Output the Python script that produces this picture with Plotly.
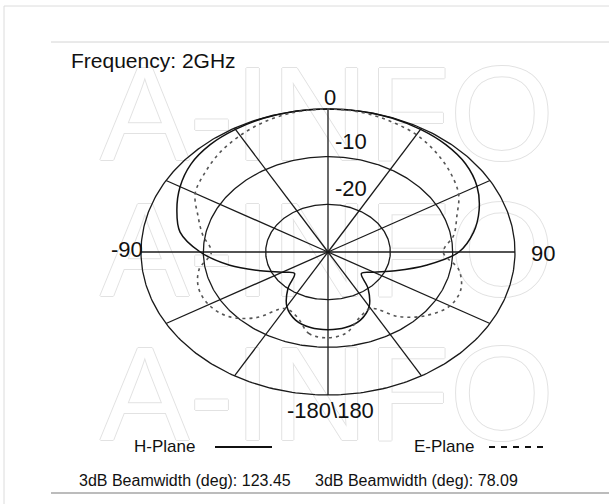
import numpy as np
import plotly.graph_objects as go

# ---------------- data ----------------
angles_deg = [-180, -170, -160, -150, -140, -130, -120, -110, -100, -90,
              -80, -70, -60, -50, -40, -30, -20, -10, 0,
              10, 20, 30, 40, 50, 60, 70, 80, 90,
              100, 110, 120, 130, 140, 150, 160, 170, 180]

h_plane_db = [-13.7, -13.9, -14.8, -16.8, -20.0, -23.0, -21.5, -18.5, -14.0, -9.5,
              -5.9, -4.2, -2.6, -1.3, -0.6, -0.3, -0.1, 0.0, 0.0,
              0.0, -0.1, -0.3, -0.6, -1.2, -2.4, -4.2, -6.3, -9.0,
              -14.0, -18.5, -21.5, -23.0, -20.0, -16.8, -14.8, -13.9, -13.7]

e_plane_db = [-12.0, -12.6, -15.5, -16.3, -12.0, -9.0, -7.9, -7.9, -9.0, -11.3,
              -9.6, -7.8, -5.4, -4.2, -2.9, -1.8, -0.8, -0.2, 0.0,
              -0.2, -0.8, -1.6, -2.9, -4.3, -5.8, -8.0, -9.5, -11.5,
              -8.7, -7.3, -7.4, -9.3, -12.3, -16.3, -15.3, -12.8, -12.0]

ring_values = [0, -10, -20]
ring_labels = ["0", "-10", "-20"]
spoke_angles = [0, 30, 60, 90, 120, 150, 180, 210, 240, 270, 300, 330]
angle_label_pos = [-90, 90, 180]
angle_labels = ["-90", "90", "-180\\180"]
r_min, r_max = -30, 0

title_text = "Frequency: 2GHz"
series_names = ["H-Plane", "E-Plane"]
beamwidths = [123.45, 78.09]

# ---------------- geometry ----------------
W, H = 609, 504
CX, CY = 328, 252          # pixel centre of the pattern
AX, AY = 187, 143          # pixel semi-axes of the 0 dB ring

def to_xy(theta_deg, db):
    t = np.radians(np.asarray(theta_deg, dtype=float))
    r = (np.asarray(db, dtype=float) - r_min) / (r_max - r_min)
    return r * np.sin(t), r * np.cos(t)

def px(xp):   # pixel -> paper x
    return xp / W

def py(yp):   # pixel -> paper y
    return 1 - yp / H

fig = go.Figure()

# watermark (drawn first so that it stays underneath)
wm_font = dict(family="Liberation Sans, Arial", size=134, color="white",
               shadow="1px 0px 0px #e2e2e2, -1px 0px 0px #e2e2e2, 0px 1px 0px #e2e2e2, 0px -1px 0px #e2e2e2")
for yc in [126, 262, 406]:
    fig.add_trace(go.Scatter(x=[(327 - CX) / AX], y=[(CY - yc) / AY], mode="text",
                             text=["A-INFO"], textfont=wm_font, hoverinfo="skip",
                             showlegend=False))

grid_col = "#1a1a1a"
# rings
full = np.linspace(0, 360, 361)
for rv in ring_values:
    gx, gy = to_xy(full, [rv] * len(full))
    fig.add_trace(go.Scatter(x=gx, y=gy, mode="lines",
                             line=dict(color=grid_col, width=1.3),
                             hoverinfo="skip", showlegend=False))
# spokes
for a in spoke_angles:
    sx, sy = to_xy([a, a], [r_min, r_max])
    fig.add_trace(go.Scatter(x=sx, y=sy, mode="lines",
                             line=dict(color=grid_col, width=1.3),
                             hoverinfo="skip", showlegend=False))

# patterns
hx, hy = to_xy(angles_deg, h_plane_db)
ex, ey = to_xy(angles_deg, e_plane_db)
fig.add_trace(go.Scatter(x=hx, y=hy, mode="lines", name=series_names[0],
                         line=dict(color="#111111", width=1.5, shape="spline", smoothing=1.0),
                         showlegend=False))
fig.add_trace(go.Scatter(x=ex, y=ey, mode="lines", name=series_names[1],
                         line=dict(color="#555555", width=1.6, dash="3px,4px",
                                   shape="spline", smoothing=1.0),
                         showlegend=False))

lab_font = dict(family="Liberation Sans, Arial", size=22, color="#111111")
ann = []
# ring labels along the 0 deg spoke
for rv, lab in zip(ring_values, ring_labels):
    lx, ly = to_xy([0], [rv])
    if rv == 0:
        ann.append(dict(x=lx[0], y=ly[0], text=lab, showarrow=False, xanchor="center",
                        yanchor="bottom", xshift=2, yshift=-3, font=lab_font))
    else:
        ann.append(dict(x=lx[0], y=ly[0], text=lab, showarrow=False, xanchor="left",
                        yanchor="bottom", xshift=5, yshift=1, font=lab_font))
# angle labels
for a, lab in zip(angle_label_pos, angle_labels):
    lx, ly = to_xy([a], [r_max])
    if a == -90:
        ann.append(dict(x=lx[0], y=ly[0], text=lab, showarrow=False, xanchor="right",
                        yanchor="middle", xshift=4, yshift=3, font=lab_font))
    elif a == 90:
        ann.append(dict(x=lx[0], y=ly[0], text=lab, showarrow=False, xanchor="left",
                        yanchor="middle", xshift=14, yshift=-1, font=lab_font))
    else:
        ann.append(dict(x=lx[0], y=ly[0], text=lab, showarrow=False, xanchor="center",
                        yanchor="top", xshift=2, yshift=-1, font=lab_font))

txt_font = dict(family="Liberation Sans, Arial", size=16, color="#111111")
ann.append(dict(xref="paper", yref="paper", x=px(69), y=py(60), text=title_text,
                showarrow=False, xanchor="left", yanchor="middle",
                font=dict(family="Liberation Sans, Arial", size=21, color="#111111")))
ann.append(dict(xref="paper", yref="paper", x=px(164), y=py(446), text=series_names[0],
                showarrow=False, xanchor="center", yanchor="middle",
                font=dict(family="Liberation Sans, Arial", size=17, color="#111111")))
ann.append(dict(xref="paper", yref="paper", x=px(444), y=py(446), text=series_names[1],
                showarrow=False, xanchor="center", yanchor="middle",
                font=dict(family="Liberation Sans, Arial", size=17, color="#111111")))
ann.append(dict(xref="paper", yref="paper", x=px(185), y=py(480),
                text=f"3dB Beamwidth (deg): {beamwidths[0]:.2f}",
                showarrow=False, xanchor="center", yanchor="middle", font=txt_font))
ann.append(dict(xref="paper", yref="paper", x=px(416), y=py(480),
                text=f"3dB Beamwidth (deg): {beamwidths[1]:.2f}",
                showarrow=False, xanchor="center", yanchor="middle", font=txt_font))

shapes = [
    # outer light frame
    dict(type="line", xref="paper", yref="paper", x0=px(4), x1=px(W), y0=py(6), y1=py(6),
         line=dict(color="#dcdcdc", width=1)),
    dict(type="line", xref="paper", yref="paper", x0=px(4), x1=px(4), y0=py(6), y1=py(H),
         line=dict(color="#dcdcdc", width=1)),
    # inner top rule
    dict(type="line", xref="paper", yref="paper", x0=px(51), x1=px(W), y0=py(42), y1=py(42),
         line=dict(color="#d4d4d4", width=1)),
    # bottom rule
    dict(type="line", xref="paper", yref="paper", x0=px(51), x1=px(W), y0=py(493), y1=py(493),
         line=dict(color="#7a7a7a", width=1.2)),
    # legend samples
    dict(type="line", xref="paper", yref="paper", x0=px(215), x1=px(272), y0=py(447), y1=py(447),
         line=dict(color="#111111", width=2)),
    dict(type="line", xref="paper", yref="paper", x0=px(489), x1=px(549), y0=py(447), y1=py(447),
         line=dict(color="#111111", width=2, dash="6px,6px")),
]

fig.update_layout(
    width=W, height=H, autosize=False,
    margin=dict(l=0, r=0, t=0, b=0),
    paper_bgcolor="white", plot_bgcolor="white",
    xaxis=dict(range=[-CX / AX, (W - CX) / AX], visible=False, fixedrange=True),
    yaxis=dict(range=[-(H - CY) / AY, CY / AY], visible=False, fixedrange=True),
    annotations=ann, shapes=shapes, showlegend=False,
)

fig.write_html("out.html", config={"displayModeBar": False},
               post_script="document.body.style.margin='0px';")
